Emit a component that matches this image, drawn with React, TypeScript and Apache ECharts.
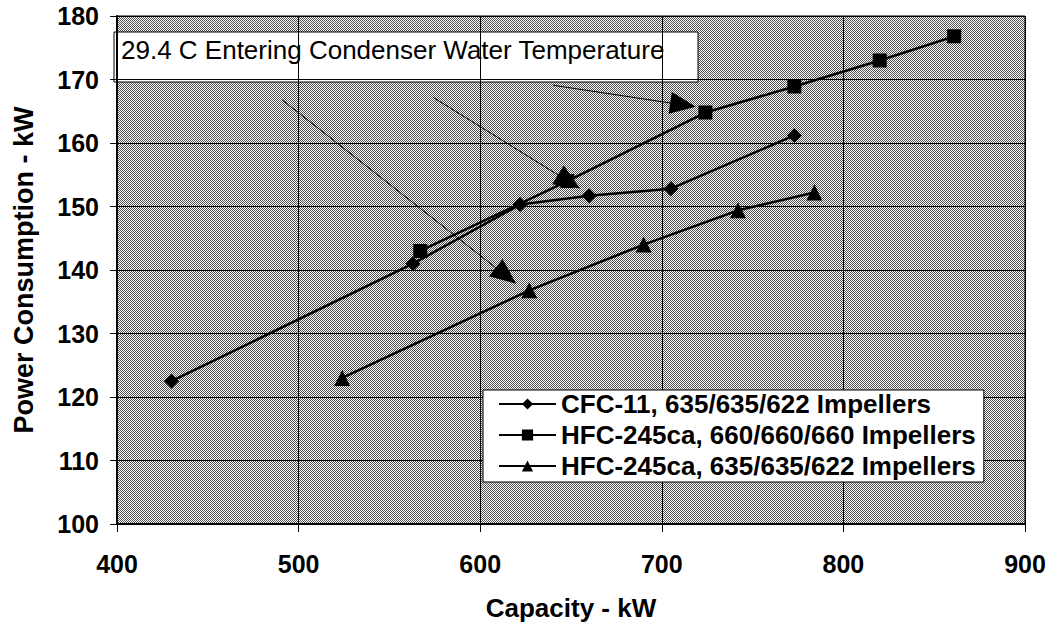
import React, { useEffect, useRef } from "react";
import * as echarts from "echarts";

// ---- data ----
const cfcX = [430, 563, 622, 660, 705, 773];
const cfcY = [122.5, 141, 150.3, 151.7, 152.8, 161.2];
const hfc660X = [567, 648, 724, 773, 820, 861];
const hfc660Y = [143, 154, 164.8, 168.9, 173, 176.8];
const hfc635X = [524, 627, 690, 742, 784];
const hfc635Y = [123, 136.8, 144, 149.4, 152.2];

const seriesNames = [
  "CFC-11, 635/635/622 Impellers",
  "HFC-245ca, 660/660/660 Impellers",
  "HFC-245ca, 635/635/622 Impellers",
];

// annotation arrows (data coordinates): start and end
const arrowStart = [
  [490.9, 166.8],
  [574, 167.2],
  [640, 169.1],
];
const arrowEnd = [
  [614.2, 139.1],
  [648.9, 153.9],
  [711.7, 166],
];

const noteText = "29.4 C Entering Condenser Water Temperature";
const xTitle = "Capacity - kW";
const yTitle = "Power Consumption - kW";

const FONT = '"Liberation Sans", Arial, sans-serif';

function zip(xs: number[], ys: number[]) {
  return xs.map((x, i) => [x, ys[i]]);
}

function makePattern() {
  const c = document.createElement("canvas");
  c.width = 2;
  c.height = 2;
  const ctx = c.getContext("2d")!;
  ctx.fillStyle = "#ffffff";
  ctx.fillRect(0, 0, 2, 2);
  ctx.fillStyle = "#505050";
  ctx.fillRect(0, 0, 1, 1);
  ctx.fillRect(1, 1, 1, 1);
  return { image: c, repeat: "repeat", imageWidth: 2, imageHeight: 2 } as any;
}

export default function App() {
  const ref = useRef<HTMLDivElement>(null);

  useEffect(() => {
    if (!ref.current) return;
    const chart = echarts.init(ref.current, null, { renderer: "svg" });

    const lineBase = {
      type: "line" as const,
      color: "#000",
      lineStyle: { color: "#000", width: 2.5 },
      itemStyle: { color: "#000" },
      showSymbol: true,
      z: 3,
    };

    const option: any = {
      animation: false,
      backgroundColor: "#fff",
      textStyle: { fontFamily: FONT },
      grid: {
        left: 117,
        right: 29,
        top: 16,
        bottom: 106,
        show: true,
        backgroundColor: makePattern(),
        borderColor: "#000",
        borderWidth: 1,
      },
      xAxis: {
        type: "value",
        min: 400,
        max: 900,
        interval: 100,
        name: xTitle,
        nameLocation: "middle",
        nameGap: 71,
        nameTextStyle: { fontSize: 26, fontWeight: "bold", color: "#000", fontFamily: FONT },
        axisLine: { show: true, lineStyle: { color: "#000", width: 2 } },
        axisTick: { show: true, length: 8, lineStyle: { color: "#000", width: 1 } },
        axisLabel: { fontSize: 25, fontWeight: "bold", color: "#000", margin: 27, fontFamily: FONT },
        splitLine: { show: true, lineStyle: { color: "#000", width: 1 } },
      },
      yAxis: {
        type: "value",
        min: 100,
        max: 180,
        interval: 10,
        name: yTitle,
        nameLocation: "middle",
        nameGap: 80,
        nameTextStyle: { fontSize: 27, fontWeight: "bold", color: "#000", fontFamily: FONT },
        axisLine: { show: true, lineStyle: { color: "#000", width: 2 } },
        axisTick: { show: true, length: 7, lineStyle: { color: "#000", width: 1 } },
        axisLabel: { fontSize: 25, fontWeight: "bold", color: "#000", margin: 18, fontFamily: FONT },
        splitLine: { show: true, lineStyle: { color: "#000", width: 1 } },
      },
      legend: {
        orient: "vertical",
        left: 483,
        top: 390,
        itemWidth: 57,
        itemHeight: 14,
        itemGap: 3,
        padding: [0, 8, 2, 15],
        backgroundColor: "#fff",
        borderColor: "#000",
        borderWidth: 1,
        textStyle: { fontSize: 26, fontWeight: "bold", color: "#000", lineHeight: 28, fontFamily: FONT },
        data: seriesNames,
      },
      graphic: [
        {
          type: "group",
          z: 100,
          children: [
            {
              type: "rect",
              shape: { x: 114, y: 32, width: 584, height: 50 },
              style: { fill: "#fff", stroke: "#000", lineWidth: 1 },
            },
            {
              type: "text",
              style: {
                x: 121,
                y: 50,
                text: noteText,
                fontSize: 26,
                fontFamily: FONT,
                fill: "#000",
                verticalAlign: "middle",
              },
            },
          ],
        },
      ],
      series: [
        {
          ...lineBase,
          name: seriesNames[0],
          data: zip(cfcX, cfcY),
          symbol: "diamond",
          symbolSize: 15,
          markLine: {
            silent: true,
            animation: false,
            label: { show: false },
            lineStyle: { color: "#000", width: 1, type: "solid" },
            data: arrowStart.map((s, i) => [
              { coord: s, symbol: "none" },
              { coord: arrowEnd[i], symbol: "triangle", symbolSize: [22, 26] },
            ]),
          },
        },
        {
          ...lineBase,
          name: seriesNames[1],
          data: zip(hfc660X, hfc660Y),
          symbol: "rect",
          symbolSize: 14,
        },
        {
          ...lineBase,
          name: seriesNames[2],
          data: zip(hfc635X, hfc635Y),
          symbol: "triangle",
          symbolSize: 16,
        },
      ],
    };

    chart.setOption(option);
    return () => chart.dispose();
  }, []);

  return <div ref={ref} style={{ width: 1054, height: 630, position: "absolute", left: 0, top: 0 }} />;
}
